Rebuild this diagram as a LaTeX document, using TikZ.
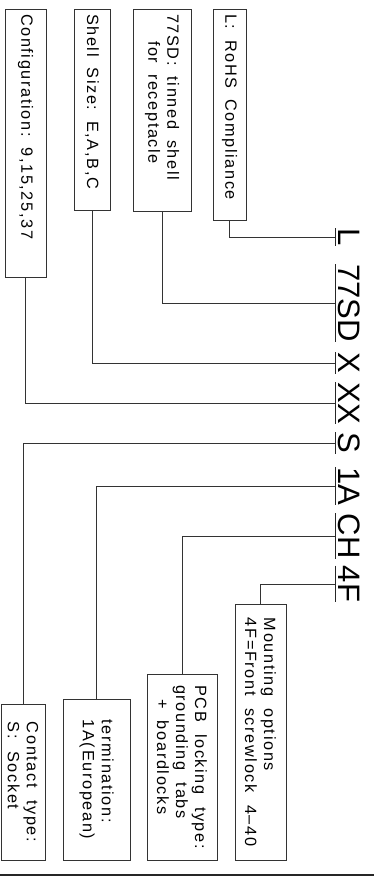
\documentclass[tikz,border=0pt]{standalone}
\usepackage{fontspec}
\newfontfamily\codefont{Liberation Sans}
\newfontfamily\boxfont[LetterSpace=10]{Liberation Sans}
\begin{document}
\begin{tikzpicture}[x=1pt,y=-1pt,
  box/.style={draw=black!80, line width=0.9pt, rotate=-90,
    font=\boxfont\fontsize{16.3}{19}\selectfont, inner xsep=5pt, inner ysep=3pt, align=left},
  seg/.style={rotate=-90, anchor=south, inner xsep=0pt, inner ysep=3pt, text depth=0pt,
    font=\codefont\fontsize{31}{31}\selectfont},
  conn/.style={draw=black!80, line width=0.9pt},
  uline/.style={draw=black!85, line width=1pt}]
\useasboundingbox (0,0) rectangle (374,876);
% top boxes
\node[box, minimum width=268pt, text width=258pt, minimum height=41pt] (bCfg) at (25.5,143) {Configuration:\ \ 9,15,25,37};
\node[box, minimum width=201pt, text width=191pt, minimum height=36pt] (bShell) at (92,109.5) {Shell\ \ Size:\ \ E,A,B,C};
\node[box, minimum width=202pt, text width=192pt, minimum height=58pt] (b77) at (162,110) {77SD:\ \ tinned\ \ shell\\\hspace*{27pt}for\ \ receptacle};
\node[box, minimum width=211pt, text width=201pt, minimum height=33pt] (bL) at (229.5,114.5) {L:\ \ RoHS\ \ Compliance};
% bottom boxes
\node[box, minimum width=156pt, minimum height=44pt] (bContact) at (23,782) {Contact\ \ type:\\S:\ \ Socket};
\node[box, minimum width=161pt, minimum height=67pt] (bTerm) at (96.5,779.5) {termination:\\1A(European)};
\node[box, minimum width=186pt, minimum height=70pt] (bPCB) at (182,767) {PCB\ \ locking\ \ type:\\grounding\ \ tabs\\\hspace*{14pt}+\ \ boardlocks};
\node[box, minimum width=256pt, minimum height=51pt] (bMount) at (260.5,732) {Mounting\ \ options\\4F=Front\ \ screwlock\ \ 4–40};
% code segments
\node[seg] (sL) at (335,237) {L};
\node[seg] (s77) at (335,303) {77SD};
\node[seg] (sX) at (335,363) {X};
\node[seg] (sXX) at (335,403) {XX};
\node[seg] (sS) at (335,443) {S};
\node[seg] (s1A) at (335,486) {1A};
\node[seg] (sCH) at (335,536) {CH};
\node[seg] (s4F) at (335,584) {4F};
\foreach \n in {sL,s77,sX,sXX,sS,s1A,sCH,s4F}
  \draw[uline] (\n.south west) -- (\n.south east);
% connectors
\draw[conn] (bL.east) |- (sL.south);
\draw[conn] (b77.east) |- (s77.south);
\draw[conn] (bShell.east) |- (sX.south);
\draw[conn] (bCfg.east) |- (sXX.south);
\draw[conn] (sS.south) -| (bContact.west);
\draw[conn] (s1A.south) -| (bTerm.west);
\draw[conn] (sCH.south) -| (bPCB.west);
\draw[conn] (s4F.south) -| (bMount.west);
% bottom rule
\coordinate (ruleL) at (0,875);
\coordinate (ruleR) at (374,875);
\draw[line width=1.4pt, draw=black!85] (ruleL) -- (ruleR);
\end{tikzpicture}
\end{document}
